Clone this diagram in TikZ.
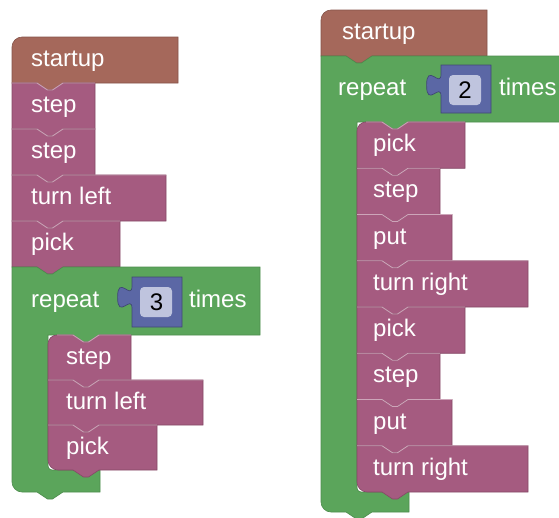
\documentclass[tikz,border=0pt]{standalone}
\usepackage{fontspec}
\setmainfont{Liberation Sans}
\definecolor{hatc}{HTML}{A5685B}
\definecolor{stmtc}{HTML}{A55B80}
\definecolor{loopc}{HTML}{5BA55B}
\definecolor{valc}{HTML}{5B67A5}
\definecolor{fieldc}{HTML}{BFC4DE}
\tikzset{
 hatfill/.style={fill=hatc, draw=hatc!80!black, line width=0.6pt},
 stmtfill/.style={fill=stmtc, draw=stmtc!80!black, line width=0.6pt},
 loopfill/.style={fill=loopc, draw=loopc!85!black, line width=0.6pt},
 valfill/.style={fill=valc, draw=valc!70!black, line width=0.7pt},
 seam/.style={draw=stmtc!55!white, line width=0.9pt},
 lbl/.style={anchor=base west, inner sep=0pt, text=white, font=\fontsize{24}{28}\selectfont},
 num/.style={anchor=base, inner sep=0pt, text=black, font=\fontsize{24}{28}\selectfont},
 fieldbox/.style={fill=fieldc, rounded corners=4pt},
}
% hat block: x y w h style
\newcommand\hatblk[5]{%
 \path[#5] (#1,#2+10) .. controls (#1,#2+4.5) and (#1+4.5,#2) .. (#1+10,#2) -- (#1+#3,#2) -- (#1+#3,#2+#4) -- (#1+51,#2+#4) -- ++(-10.5,7) -- ++(-5,0) -- ++(-10.5,-7) -- (#1,#2+#4) -- cycle;}
% statement block: x y w h topleft-radius bottomleft-radius style
\newcommand\blk[7]{%
 \path[#7] (#1,#2+#5) .. controls (#1,#2+0.45*#5) and (#1+0.45*#5,#2) .. (#1+#5,#2) -- (#1+25,#2) -- ++(10.5,7) -- ++(5,0) -- ++(10.5,-7) -- (#1+#3,#2) -- (#1+#3,#2+#4) -- (#1+51,#2+#4) -- ++(-10.5,7) -- ++(-5,0) -- ++(-10.5,-7) -- (#1+#6,#2+#4) .. controls (#1+0.45*#6,#2+#4) and (#1,#2+#4-0.45*#6) .. (#1,#2+#4-#6) -- cycle;
 \draw[seam] (#1+#5,#2) -- (#1+25,#2) -- ++(10.5,7) -- ++(5,0) -- ++(10.5,-7) -- (#1+#3,#2);}
% C-shaped loop block: L T R Hb IL Bt AR Bb style
\newcommand\cblk[9]{%
 \path[#9] (#1,#2) -- (#1+25,#2) -- ++(10.5,7) -- ++(5,0) -- ++(10.5,-7) -- (#3,#2) -- (#3,#4) -- (#5+51,#4) -- ++(-10.5,7) -- ++(-5,0) -- ++(-10.5,-7) -- (#5,#4) -- (#5,#6-4) .. controls (#5,#6-1.8) and (#5+1.8,#6) .. (#5+4,#6) -- (#7,#6) -- (#7,#8) -- (#1+51,#8) -- ++(-10.5,7) -- ++(-5,0) -- ++(-10.5,-7) -- (#1+10,#8) .. controls (#1+4.5,#8) and (#1,#8-4.5) .. (#1,#8-10) -- cycle;}
% value block: x y w h
\newcommand\valblk[4]{%
 \path[valfill] (#1+#3,#2) -- (#1,#2) -- (#1,#2+9) .. controls (#1,#2+24) and (#1-14.4,#2-3) .. (#1-14.4,#2+20.25) .. controls (#1-14.4,#2+43.5) and (#1,#2+16.5) .. (#1,#2+31.5) -- (#1,#2+#4) -- (#1+#3,#2+#4) -- cycle;}
\begin{document}
\begin{tikzpicture}[x=1pt,y=-1pt]
\useasboundingbox (0,0) rectangle (559,517);
\clip (0,0) rectangle (559,517);
% ---------- left program ----------
\hatblk{12}{37}{166}{46}{hatfill}
\blk{12}{83}{83}{46}{0}{0}{stmtfill}
\blk{12}{129}{83}{46}{0}{0}{stmtfill}
\blk{12}{175}{154}{46}{0}{0}{stmtfill}
\blk{12}{221}{108}{46}{0}{0}{stmtfill}
\cblk{12}{267}{260}{335}{48}{470}{100}{492}{loopfill}
\blk{48}{335}{83}{45}{9}{0}{stmtfill}
\blk{48}{380}{155}{45}{0}{0}{stmtfill}
\blk{48}{425}{109}{45}{0}{10}{stmtfill}
\valblk{132}{277}{50}{50}
\path[fieldbox] (140,287) rectangle (172,317);
\node[lbl] (ls) at (31,66.5) {startup};
\node[lbl] (l1) at (31,112.5) {step};
\node[lbl] (l2) at (31,158.5) {step};
\node[lbl] (l3) at (31,204.5) {turn left};
\node[lbl] (l4) at (31,250.5) {pick};
\node[lbl] (lr) at (31,307) {repeat};
\node[num] (lv) at (156.5,310) {3};
\node[lbl] (lt) at (189,307) {times};
\node[lbl] (li1) at (66,364.5) {step};
\node[lbl] (li2) at (66,409.5) {turn left};
\node[lbl] (li3) at (66,454.5) {pick};
% ---------- right program ----------
\hatblk{321}{10}{166}{46}{hatfill}
\cblk{321}{56}{575}{122}{357}{492}{409}{512}{loopfill}
\blk{357}{122}{108}{46.25}{9}{0}{stmtfill}
\blk{357}{168.25}{83}{46.25}{0}{0}{stmtfill}
\blk{357}{214.5}{95}{46.25}{0}{0}{stmtfill}
\blk{357}{260.75}{171}{46.25}{0}{0}{stmtfill}
\blk{357}{307}{108}{46.25}{0}{0}{stmtfill}
\blk{357}{353.25}{83}{46.25}{0}{0}{stmtfill}
\blk{357}{399.5}{95}{46.25}{0}{0}{stmtfill}
\blk{357}{445.75}{171}{46.25}{0}{10}{stmtfill}
\valblk{441}{65}{50}{48}
\path[fieldbox] (449,75) rectangle (481,105);
\node[lbl] (rs) at (342,39.5) {startup};
\node[lbl] (rr) at (338,95) {repeat};
\node[num] (rv) at (465,98) {2};
\node[lbl] (rt) at (499,95) {times};
\node[lbl] (ri1) at (373,151.5) {pick};
\node[lbl] (ri2) at (373,197.75) {step};
\node[lbl] (ri3) at (373,244) {put};
\node[lbl] (ri4) at (373,290.25) {turn right};
\node[lbl] (ri5) at (373,336.5) {pick};
\node[lbl] (ri6) at (373,382.75) {step};
\node[lbl] (ri7) at (373,429) {put};
\node[lbl] (ri8) at (373,475.25) {turn right};
\end{tikzpicture}
\end{document}
